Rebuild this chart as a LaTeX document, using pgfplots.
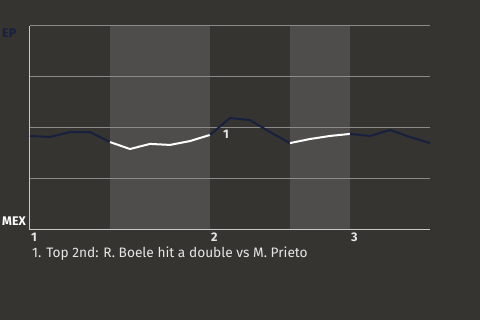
\documentclass[border=0pt]{standalone}
\usepackage{pgfplots}
\pgfplotsset{compat=1.18}
\usepackage{fontspec}
\setmainfont{Fira Sans}
\definecolor{bg}{HTML}{363431}
\definecolor{band}{HTML}{4E4D4B}
\definecolor{gridc}{HTML}{8C8B89}
\definecolor{axisc}{HTML}{C8C8C6}
\definecolor{navy}{HTML}{17213F}
\definecolor{txt}{HTML}{E6E6E4}
\begin{document}
\begin{tikzpicture}[x=1pt,y=1pt]
\fill[bg] (0,0) rectangle (480,320);
\node[anchor=west,font=\bfseries\fontsize{12.5}{14}\selectfont,text=navy,inner sep=0] at (2,287) {EP};
\node[anchor=west,font=\bfseries\fontsize{12.5}{14}\selectfont,text=white,inner sep=0] at (2,99) {MEX};
\node[anchor=west,font=\fontsize{13.7}{15}\selectfont,text=txt,inner sep=0] at (32,66) {1. Top 2nd: R. Boele hit a double vs M. Prieto};
\begin{axis}[at={(30pt,90pt)},anchor=south west,
  width=400pt,height=204pt,scale only axis,
  xmin=0,xmax=20,ymin=0,ymax=100,
  axis line style={draw=none},
  xtick={0,9,16},xticklabels={1,2,3},
  xticklabel style={anchor=north west,font=\bfseries\fontsize{12.5}{14}\selectfont,text=txt,inner sep=0,yshift=-3pt,xshift=1pt},
  major tick length=0pt,
  ytick=\empty,
  clip=false]
\fill[band] (axis cs:4,0) rectangle (axis cs:9,100);
\fill[band] (axis cs:13,0) rectangle (axis cs:16,100);
\draw[gridc,line width=1pt] (axis cs:0,25) -- (axis cs:20,25);
\draw[gridc,line width=1pt] (axis cs:0,50) -- (axis cs:20,50);
\draw[gridc,line width=1pt] (axis cs:0,75) -- (axis cs:20,75);
\draw[gridc,line width=1pt] (axis cs:0,100) -- (axis cs:20,100);
\draw[axisc,line width=1pt] (axis cs:0,100) -- (axis cs:0,0) -- (axis cs:20,0);
\addplot[navy,line width=2pt,no marks] coordinates {(0,46.1)(1,45.6)(2,48.0)(3,48.0)(4,43.1)};
\addplot[white,line width=2pt,no marks] coordinates {(4,43.1)(5,39.7)(6,42.2)(7,41.7)(8,43.6)(9,46.6)};
\addplot[navy,line width=2pt,no marks] coordinates {(9,46.6)(10,54.9)(11,53.9)(12,48.0)(13,42.6)};
\addplot[white,line width=2pt,no marks] coordinates {(13,42.6)(14,44.6)(15,46.1)(16,47.1)};
\addplot[navy,line width=2pt,no marks] coordinates {(16,47.1)(17,46.1)(18,49.0)(19,45.6)(20,42.6)};
\node[font=\bfseries\fontsize{12.5}{14}\selectfont,text=txt,inner sep=0] at (axis cs:9.8,47) {1};
\end{axis}
\end{tikzpicture}
\end{document}
